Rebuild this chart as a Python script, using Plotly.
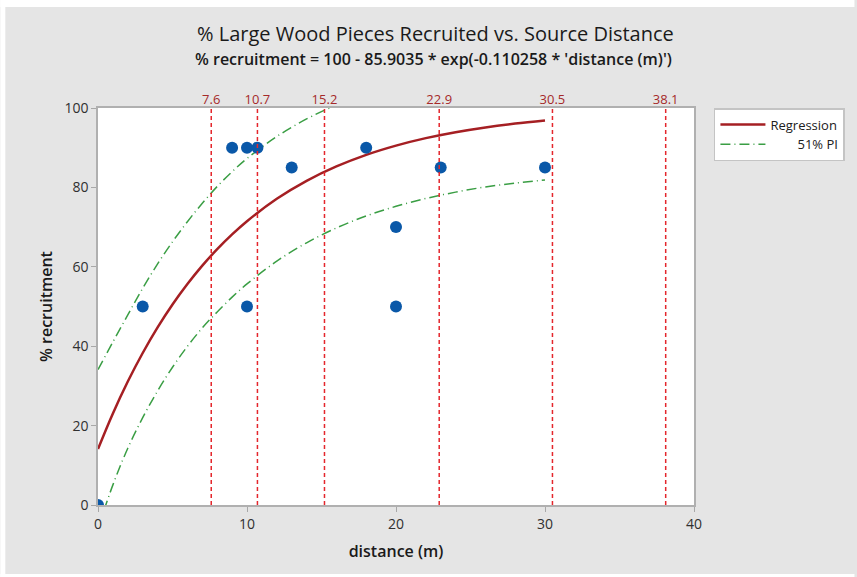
import plotly.graph_objects as go

# ---- data ----
dist = [0, 3, 9, 10, 10.7, 10, 13, 18, 20, 20, 23, 30]
recruit = [0, 50, 90, 90, 90, 50, 85, 90, 70, 50, 85, 85]

curve_x = [0, 1, 2, 3, 4, 5, 6, 7, 8, 9, 10, 12, 14, 16, 18, 20, 22, 24, 26, 28, 30]
fit_y = [14.10, 23.07, 31.10, 38.29, 44.73, 50.50, 55.66, 60.30, 64.44, 68.16, 71.48,
         77.12, 81.65, 85.28, 88.20, 90.53, 92.41, 93.91, 95.11, 96.08, 96.86]
upper_x = [0, 1, 2, 3, 4, 5, 6, 7, 8, 9, 10, 12, 14, 16]
upper_y = [34.10, 41.07, 47.90, 54.59, 60.73, 66.30, 71.36, 76.00, 80.24, 83.96, 87.28,
           92.82, 97.25, 100.78]
lower_y = [-5.90, 5.07, 14.30, 21.99, 28.73, 34.70, 39.96, 44.60, 48.64, 52.36, 55.68,
           61.42, 66.05, 69.78, 72.80, 75.23, 77.21, 78.81, 80.11, 81.08, 81.86]

ref_lines = [7.6, 10.7, 15.2, 22.9, 30.5, 38.1]
ref_labels = ["7.6", "10.7", "15.2", "22.9", "30.5", "38.1"]

x_ticks = [0, 10, 20, 30, 40]
y_ticks = [0, 20, 40, 60, 80, 100]

FONT = "Open Sans"
W, H = 857, 577
L, R, T, B = 98, 696, 108, 505

PI_DASH = "10px,4px,1px,4px"

fig = go.Figure()

# reference vertical lines on the top axis
vx, vy = [], []
for v in ref_lines:
    vx += [v, v, None]
    vy += [0, 100, None]
fig.add_trace(go.Scatter(x=vx, y=vy, xaxis="x2", yaxis="y", mode="lines",
                         line=dict(color="#e4262c", width=1.5, dash="4px,3px"),
                         showlegend=False, hoverinfo="skip"))

fig.add_trace(go.Scatter(x=curve_x, y=fit_y, mode="lines", name="Regression",
                         line=dict(color="#a51f23", width=2.5, shape="spline")))
fig.add_trace(go.Scatter(x=upper_x, y=upper_y, mode="lines",
                         name="\u00a0\u00a0\u00a0\u00a0\u00a0\u00a0\u00a0\u00a051% PI",
                         legendgroup="pi",
                         line=dict(color="#3a9e44", width=1.5, dash=PI_DASH, shape="spline")))
fig.add_trace(go.Scatter(x=curve_x, y=lower_y, mode="lines", name="51% PI",
                         legendgroup="pi", showlegend=False,
                         line=dict(color="#3a9e44", width=1.5, dash=PI_DASH, shape="spline")))
fig.add_trace(go.Scatter(x=dist, y=recruit, mode="markers", showlegend=False,
                         marker=dict(color="#0a58a8", size=12)))

axis_common = dict(showgrid=False, zeroline=False, showline=True, mirror=True,
                   linecolor="#b0b0b0", linewidth=1.5, ticks="outside", ticklen=5,
                   tickcolor="#a8a8a8", tickwidth=1,
                   tickfont=dict(family=FONT, size=14, color="#303030"))

fig.update_layout(
    width=W, height=H,
    margin=dict(l=L, r=W - R, t=T, b=H - B, pad=0),
    paper_bgcolor="#e5e5e5", plot_bgcolor="white",
    font=dict(family=FONT),
    xaxis=dict(range=[0, 40], tickvals=x_ticks,
               title=dict(text="distance (m)", font=dict(family=FONT, size=16, color="#1a1a1a", weight=600), standoff=14),
               **axis_common),
    xaxis2=dict(range=[0, 40], overlaying="x", side="top", anchor="y", tickvals=ref_lines,
                ticktext=ref_labels, ticks="", showline=False, showgrid=False, zeroline=False,
                tickfont=dict(family=FONT, size=13, color="#a52a2a")),
    yaxis=dict(range=[0, 100], tickvals=y_ticks,
               title=dict(text="% recruitment", font=dict(family=FONT, size=16, color="#1a1a1a", weight=600), standoff=8),
               **axis_common),
    legend=dict(x=(716 - L) / (R - L), y=1.0, xanchor="left", yanchor="top",
                bgcolor="white", bordercolor="#c4c4c4", borderwidth=1.5,
                font=dict(family=FONT, size=13, color="#202020"), itemwidth=45,
                tracegroupgap=0),
    showlegend=True,
)

def px_x(p):
    return (p - L) / (R - L)

def px_y(p):
    return (B - p) / (B - T)

fig.add_annotation(text="% Large Wood Pieces Recruited vs. Source Distance",
                   xref="paper", yref="paper", x=px_x(437), y=px_y(34),
                   showarrow=False, xanchor="center", yanchor="middle",
                   font=dict(family=FONT, size=20, color="#1a1a1a"))
fig.add_annotation(text="% recruitment = 100 - 85.9035 * exp(-0.110258 * 'distance (m)')",
                   xref="paper", yref="paper", x=px_x(435), y=px_y(59),
                   showarrow=False, xanchor="center", yanchor="middle",
                   font=dict(family=FONT, size=16, color="#1a1a1a", weight=600))

# white outer border around the grey panel
for (x0, y0, x1, y1) in [(0, 0, W, 7), (0, 0, 5, H), (0, 574, W, H)]:
    fig.add_shape(type="rect", xref="paper", yref="paper",
                  x0=px_x(x0), x1=px_x(x1), y0=px_y(y1), y1=px_y(y0),
                  fillcolor="white", line=dict(width=0), layer="above")

fig.write_html("out.html", config={"displayModeBar": False},
               post_script="document.body.style.margin='0';document.body.style.overflow='hidden';")
